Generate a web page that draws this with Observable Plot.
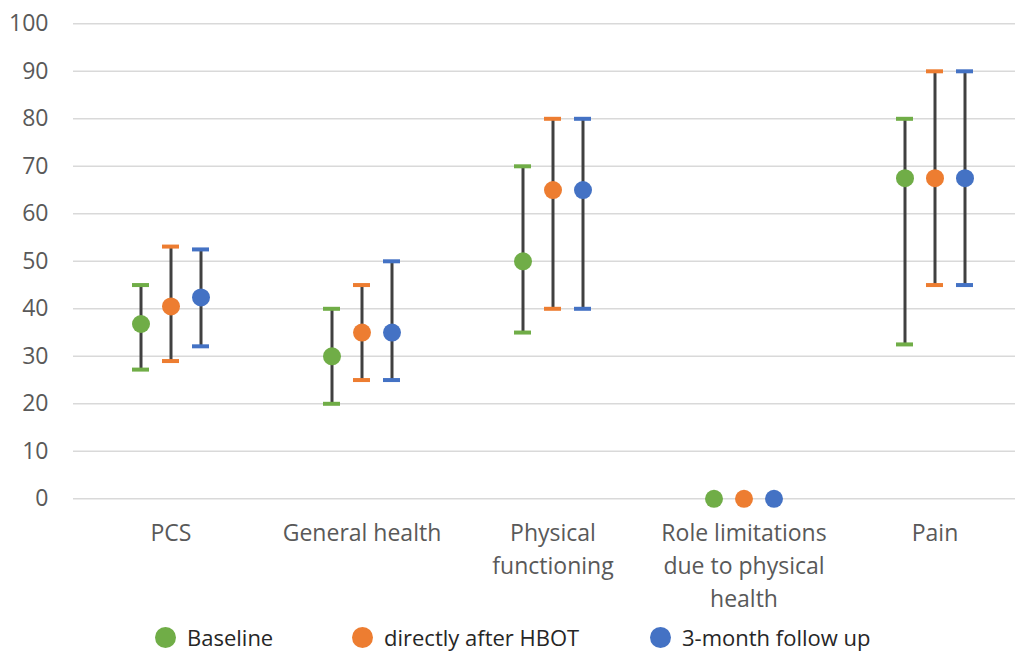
<!DOCTYPE html>
<html>
<head>
<meta charset="utf-8">
<script src="https://cdn.jsdelivr.net/npm/d3@7"></script>
<script src="https://cdn.jsdelivr.net/npm/@observablehq/plot@0.6"></script>
<style>
  html, body { margin: 0; padding: 0; background: #fff; }
  #wrap { position: relative; width: 1015px; height: 651px; font-family: "Open Sans", sans-serif; }
  #legend { position: absolute; left: 0; top: 620px; width: 1015px; height: 31px; }
  .item { position: absolute; top: 0; display: flex; align-items: center; height: 34px; font-size: 22px; color: #262626; }
  .sw { width: 21px; height: 21px; border-radius: 50%; margin-right: 11px; }
</style>
</head>
<body>
<div id="wrap">
  <div id="chart"></div>
  <div id="legend"></div>
</div>
<script>
const categories = ["PCS", "General health", "Physical functioning", "Role limitations due to physical health", "Pain"];
const tickLabels = ["PCS", "General health", "Physical\nfunctioning", "Role limitations\ndue to physical\nhealth", "Pain"];
const seriesNames = ["Baseline", "directly after HBOT", "3-month follow up"];
const seriesColors = ["#70AD47", "#ED7D31", "#4472C4"];

const baselineMean = [36.8, 30, 50, 0, 67.5];
const baselineLow  = [27.2, 20, 35, null, 32.5];
const baselineHigh = [45, 40, 70, null, 80];

const afterMean = [40.5, 35, 65, 0, 67.5];
const afterLow  = [29, 25, 40, null, 45];
const afterHigh = [53.1, 45, 80, null, 90];

const followMean = [42.4, 35, 65, 0, 67.5];
const followLow  = [32.1, 25, 40, null, 45];
const followHigh = [52.5, 50, 80, null, 90];

const yTicks = [0, 10, 20, 30, 40, 50, 60, 70, 80, 90, 100];

const seriesData = [
  [baselineMean, baselineLow, baselineHigh],
  [afterMean, afterLow, afterHigh],
  [followMean, followLow, followHigh]
].map(([m, lo, hi], s) => categories.map((c, i) => ({category: c, mean: m[i], low: lo[i], high: hi[i], series: seriesNames[s]})));

const offsets = [-30, 0, 30];
const bandW = 191;
const capW = 17;

const marks = [
  Plot.ruleY(yTicks, {stroke: "#d9d9d9", strokeWidth: 1.6}),
  Plot.axisY(yTicks, {tickSize: 0, tickPadding: 25, fontSize: 23, fill: "#595959", label: null}),
  Plot.axisX({tickSize: 0, tickPadding: 17, fontSize: 23, fill: "#595959", label: null, lineHeight: 1.43, lineAnchor: "top",
    tickFormat: d => tickLabels[categories.indexOf(d)]})
];

seriesData.forEach((data, s) => {
  const withBars = data.filter(d => d.low != null);
  const dx = offsets[s];
  const inset = (bandW - capW) / 2;
  marks.push(
    Plot.ruleX(withBars, {x: "category", y1: "low", y2: "high", dx, stroke: "#404040", strokeWidth: 3}),
    Plot.tickY(withBars, {x: "category", y: "high", dx, stroke: seriesColors[s], strokeWidth: 4, insetLeft: inset, insetRight: inset}),
    Plot.tickY(withBars, {x: "category", y: "low", dx, stroke: seriesColors[s], strokeWidth: 4, insetLeft: inset, insetRight: inset}),
    Plot.dot(data, {x: "category", y: "mean", dx, r: 9, fill: seriesColors[s], stroke: "none"})
  );
});

const chart = Plot.plot({
  width: 1015,
  height: 620,
  marginLeft: 73,
  marginRight: 0,
  marginTop: 20,
  marginBottom: 120,
  style: {fontFamily: "Open Sans, sans-serif", background: "#fff", overflow: "visible"},
  x: {domain: categories, range: [74.5, 1029.5], padding: 0, axis: null},
  y: {domain: [0, 100], range: [498.3, 23.3], axis: null},
  marks
});
document.getElementById("chart").appendChild(chart);

const legendPos = [155, 352, 650];
const legend = document.getElementById("legend");
seriesNames.forEach((name, i) => {
  const item = document.createElement("div");
  item.className = "item";
  item.style.left = legendPos[i] + "px";
  const sw = document.createElement("div");
  sw.className = "sw";
  sw.style.background = seriesColors[i];
  const tx = document.createElement("span");
  tx.textContent = name;
  item.appendChild(sw);
  item.appendChild(tx);
  legend.appendChild(item);
});
</script>
</body>
</html>
